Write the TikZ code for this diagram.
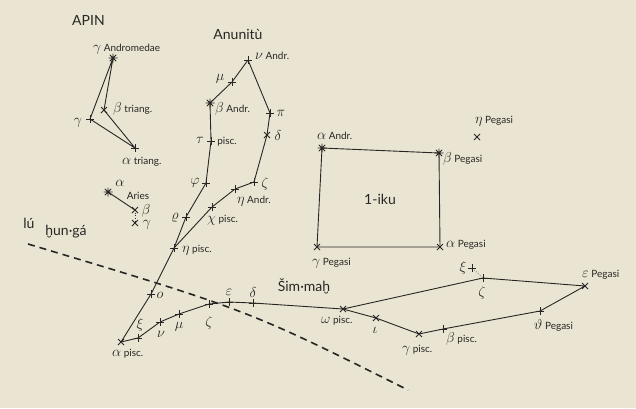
\documentclass[tikz,border=0pt]{standalone}
\usepackage{amsmath,amssymb}
\usepackage{fontspec}
\setmainfont{Lato}
\usepackage{tikz}
\usetikzlibrary{calc}
\definecolor{paper}{RGB}{233,229,210}
\definecolor{ink}{RGB}{40,38,36}
\tikzset{
  pt/.style={inner sep=0pt, minimum size=0pt},
  mk/.style={ink, line width=1pt},
  gk/.style={inner sep=0pt, text=ink, font=\fontsize{15}{15}\selectfont},
  nm/.style={inner sep=0pt, text=ink, font=\fontsize{10}{10}\selectfont},
  big/.style={inner sep=0pt, text=ink, font=\fontsize{14}{14}\selectfont},
  ln/.style={ink, line width=0.9pt},
}
\newcommand{\sml}[1]{{\fontsize{10}{10}\selectfont #1}}
\begin{document}
\begin{tikzpicture}[x=1pt, y=-1pt]
    % Paper
    \fill[paper] (0,0) rectangle (636,408);
    \useasboundingbox (0,0) rectangle (636,408);
    % Titles
    \node[big, anchor=base west] (apin) at (72,25) {APIN};
    \node[big] (anu) at (238,34) {Anunitù};
    \node[big] (iku) at (380,199) {1-iku};
    \node[big] (sim) at (304,286) {Šim·maḫ};
    \node[big] (lu) at (29,223) {lú};
    \node[big] (hun) at (66,232) {ḫun·gá};
    % Triangulum group
    \node[pt] (gAnd) at (113,58) {};
    \node[pt] (bTri) at (104,110) {};
    \node[pt] (gTri) at (90,119) {};
    \node[pt] (aTri) at (135,148) {};
    \draw[ln] (gAnd) -- (gTri) -- (aTri) -- (bTri) -- (gAnd);
    \node[gk, anchor=base west] at (93,51) {$\gamma$\,\sml{Andromedae}};
    \node[gk, anchor=base west] at (113,112) {$\beta$\,\sml{triang.}};
    \node[gk] at (78,123) {$\gamma$};
    \node[gk, anchor=base west] at (122,164) {$\alpha$\,\sml{triang.}};
    % Aries
    \node[pt] (aAri) at (108,192) {};
    \node[pt] (bAri) at (135,210) {};
    \node[pt] (gAri) at (135,223) {};
    \draw[ln] (aAri) -- (bAri);
    \draw[ink, line width=0.6pt, dotted] (bAri) -- (gAri);
    \node[gk] at (120,183) {$\alpha$};
    \node[nm] at (138,196) {Aries};
    \node[gk] at (146,211) {$\beta$};
    \node[gk] at (147,225) {$\gamma$};
    % Anunitu
    \node[pt] (nuA) at (248,60) {};
    \node[pt] (muA) at (232,82) {};
    \node[pt] (bAnd) at (210,103) {};
    \node[pt] (tauP) at (211,141) {};
    \node[pt] (phiP) at (206,183) {};
    \node[pt] (rhoP) at (186,217) {};
    \node[pt] (etaP) at (174,248) {};
    \node[pt] (oP) at (151,294) {};
    \node[pt] (piA) at (270,113) {};
    \node[pt] (delA) at (267,135) {};
    \node[pt] (zetA) at (254,182) {};
    \node[pt] (etaA) at (235,189) {};
    \node[pt] (chiP) at (212,207) {};
    \draw[ln] (nuA) -- (muA) -- (bAnd) -- (tauP) -- (phiP) -- (rhoP) -- (etaP) -- (oP);
    \draw[ln] (nuA) -- (piA) -- (delA) -- (zetA) -- (etaA) -- (chiP) -- (etaP);
    \node[gk, anchor=base west] at (255,59) {$\nu$\,\sml{Andr.}};
    \node[gk] at (220,79) {$\mu$};
    \node[gk, anchor=base west] at (215,112) {$\beta$\,\sml{Andr.}};
    \node[gk] at (200,140) {$\tau$};
    \node[nm] at (227,142) {pisc.};
    \node[gk] at (195,183) {$\varphi$};
    \node[gk] at (281,113) {$\pi$};
    \node[gk] at (278,135) {$\delta$};
    \node[gk] at (265,184) {$\zeta$};
    \node[gk, anchor=base west] at (237,203) {$\eta$\,\sml{Andr.}};
    \node[gk, anchor=base west] at (207,222) {$\chi$\,\sml{pisc.}};
    \node[gk] at (175,218) {$\varrho$};
    \node[gk, anchor=base west] at (182,252) {$\eta$\,\sml{pisc.}};
    \node[gk] at (160,295) {$o$};
    % Pisces band
    \node[pt] (aPsc) at (121,342) {};
    \node[pt] (xiP) at (138,338) {};
    \node[pt] (nuP) at (160,322) {};
    \node[pt] (muP) at (179,314) {};
    \node[pt] (zetP) at (209,304) {};
    \node[pt] (epsP) at (229,302) {};
    \node[pt] (delP) at (253,303) {};
    \node[pt] (omP) at (343,309) {};
    \node[pt] (iotP) at (376,318) {};
    \node[pt] (gamP) at (419,334) {};
    \node[pt] (betP) at (443,329) {};
    \node[pt] (thePeg) at (540,311) {};
    \node[pt] (epsPeg) at (585,286) {};
    \node[pt] (zetPeg) at (483,278) {};
    \node[pt] (xiPeg) at (472,268) {};
    \draw[ln] (oP) -- (aPsc) -- (xiP) -- (nuP) -- (muP) -- (zetP) -- (epsP) -- (delP) -- (omP)
        -- (iotP) -- (gamP) -- (betP) -- (thePeg) -- (epsPeg) -- (zetPeg) -- (omP);
    \draw[ink, line width=0.6pt, dotted] (xiPeg) -- (zetPeg);
    \node[gk, anchor=base west] at (112,356) {$\alpha$\,\sml{pisc.}};
    \node[gk] at (140,325) {$\xi$};
    \node[gk] at (161,334) {$\nu$};
    \node[gk] at (179,327) {$\mu$};
    \node[gk] at (209,323) {$\zeta$};
    \node[gk] at (229,292) {$\varepsilon$};
    \node[gk] at (253,292) {$\delta$};
    \node[gk, anchor=base west] at (321,323) {$\omega$\,\sml{pisc.}};
    \node[gk] at (375,330) {$\iota$};
    \node[gk, anchor=base west] at (402,352) {$\gamma$\,\sml{pisc.}};
    \node[gk, anchor=base west] at (446,342) {$\beta$\,\sml{pisc.}};
    \node[gk] at (463,268) {$\xi$};
    \node[gk] at (482,293) {$\zeta$};
    \node[gk, anchor=base west] at (582,277) {$\varepsilon$\,\sml{Pegasi}};
    \node[gk, anchor=base west] at (534,329) {$\vartheta$\,\sml{Pegasi}};
    % Square of Pegasus
    \node[pt] (aAnd) at (322,148) {};
    \node[pt] (bPeg) at (439,153) {};
    \node[pt] (aPeg) at (440,247) {};
    \node[pt] (gPeg) at (317,247) {};
    \node[pt] (etaPeg) at (477,137) {};
    \draw[ln] (aAnd) -- (bPeg) -- (aPeg) -- (gPeg) -- (aAnd);
    \node[gk, anchor=base west] at (317,139) {$\alpha$\,\sml{Andr.}};
    \node[gk, anchor=base west] at (443,162) {$\beta$\,\sml{Pegasi}};
    \node[gk, anchor=base west] at (446,247) {$\alpha$\,\sml{Pegasi}};
    \node[gk, anchor=base west] at (312,265) {$\gamma$\,\sml{Pegasi}};
    \node[gk, anchor=base west] at (475,123) {$\eta$\,\sml{Pegasi}};
    % Star marks
    \foreach \n in {gTri,aTri,nuA,muA,tauP,phiP,rhoP,etaP,oP,piA,zetA,etaA,chiP,
                    xiP,nuP,muP,zetP,epsP,delP,betP,thePeg,zetPeg,xiPeg}
        \draw[mk] ($(\n)+(-4,0)$) -- +(8,0) ($(\n)+(0,-4)$) -- +(0,8);
    \foreach \n in {bTri,bAri,gAri,delA,aPsc,omP,iotP,gamP,epsPeg,aPeg,gPeg,etaPeg}
        \draw[mk] ($(\n)+(-3,-3)$) -- +(6,6) ($(\n)+(-3,3)$) -- +(6,-6);
    \foreach \n in {gAnd,aAri,bAnd,aAnd,bPeg}
        \draw[mk, line width=0.8pt] ($(\n)+(0,-4.5)$) -- +(0,9) ($(\n)+(-4.5,0)$) -- +(9,0)
            ($(\n)+(-3.2,-3.2)$) -- +(6.4,6.4) ($(\n)+(-3.2,3.2)$) -- +(6.4,-6.4);
    % Dashed line
    \coordinate (d0) at (28,244);
    \coordinate (d1) at (408,390);
    \draw[ink, line width=1.6pt, dash pattern=on 7pt off 5pt] (d0) .. controls (248,310) .. (d1);
\end{tikzpicture}
\end{document}
